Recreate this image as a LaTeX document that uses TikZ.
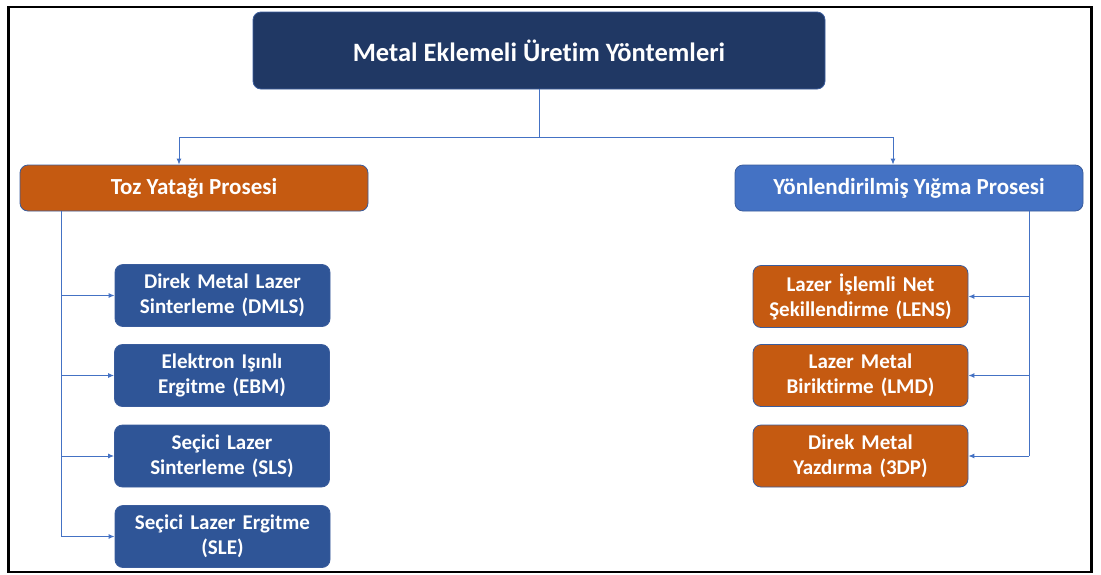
\documentclass[tikz,border=0pt]{standalone}
\usepackage{fontspec}
\setmainfont{Carlito}[Ligatures={NoCommon}]
\usetikzlibrary{arrows.meta,calc}
\definecolor{navy}{HTML}{203864}
\definecolor{rust}{HTML}{C55A11}
\definecolor{mblue}{HTML}{4472C4}
\definecolor{dblue}{HTML}{2F5597}
\definecolor{edgeb}{HTML}{3A5C9C}
\tikzset{
  box/.style={rectangle, rounded corners=8pt, draw=edgeb, line width=0.8pt, inner sep=0pt, text=white, align=center, font=\fontsize{21}{25}\selectfont\bfseries},
  leaf/.style={box, minimum width=215pt, minimum height=62pt, text width=212pt},
  conn/.style={draw=mblue, line width=1pt},
  arr/.style={conn, -{Latex[length=6pt,width=5pt]}}
}
\begin{document}
\begin{tikzpicture}[x=1pt,y=-1pt]
\useasboundingbox (0,0) rectangle (1101,574);
\fill[white] (0,0) rectangle (1101,574);
\draw[line width=2.5pt, black] (8.5,7) rectangle (1091.5,572);
\node[box, fill=navy, minimum width=572pt, minimum height=77pt, font=\fontsize{26.5}{30}\selectfont\bfseries] (title) at (539,50.5) {Metal Eklemeli Üretim Yöntemleri};
\node[box, fill=rust, minimum width=348pt, minimum height=46pt, font=\fontsize{23}{27}\selectfont\bfseries] (toz) at (194,188) {Toz Yatağı Prosesi};
\node[box, fill=mblue, minimum width=348pt, minimum height=46pt, font=\fontsize{23}{27}\selectfont\bfseries] (yon) at (909,188) {Yönlendirilmiş Yığma Prosesi};
\node[leaf, fill=dblue] (dmls) at (222.5,295.5) {Direk Metal Lazer\\Sinterleme (DMLS)};
\node[leaf, fill=dblue] (ebm) at (222,375.5) {Elektron Işınlı\\Ergitme (EBM)};
\node[leaf, fill=dblue] (sls) at (222,456) {Seçici Lazer\\Sinterleme (SLS)};
\node[leaf, fill=dblue] (sle) at (222.5,536.5) {Seçici Lazer Ergitme\\(SLE)};
\node[leaf, fill=rust] (lens) at (860.5,296.5) {Lazer İşlemli Net\\Şekillendirme (LENS)};
\node[leaf, fill=rust] (lmd) at (860.5,375.5) {Lazer Metal\\Biriktirme (LMD)};
\node[leaf, fill=rust] (tdp) at (860.5,456) {Direk Metal\\Yazdırma (3DP)};
% top connectors
\coordinate (j) at ($(title.south)+(0,48)$);
\draw[arr] (title.south) -- (j) -| ($(toz.north)+(-15,0)$);
\draw[arr] (j) -| ($(yon.north)+(-16,0)$);
% left tree
\coordinate (lt) at ($(toz.south west)+(42,0)$);
\draw[conn] (lt) -- (lt |- sle.west);
\foreach \n in {dmls,ebm,sls,sle} \draw[arr] (lt |- \n.west) -- (\n.west);
% right tree
\coordinate (rt) at ($(yon.south east)+(-54,0)$);
\draw[conn] (rt) -- (rt |- tdp.east);
\foreach \n in {lens,lmd,tdp} \draw[arr] (rt |- \n.east) -- (\n.east);
\end{tikzpicture}
\end{document}
